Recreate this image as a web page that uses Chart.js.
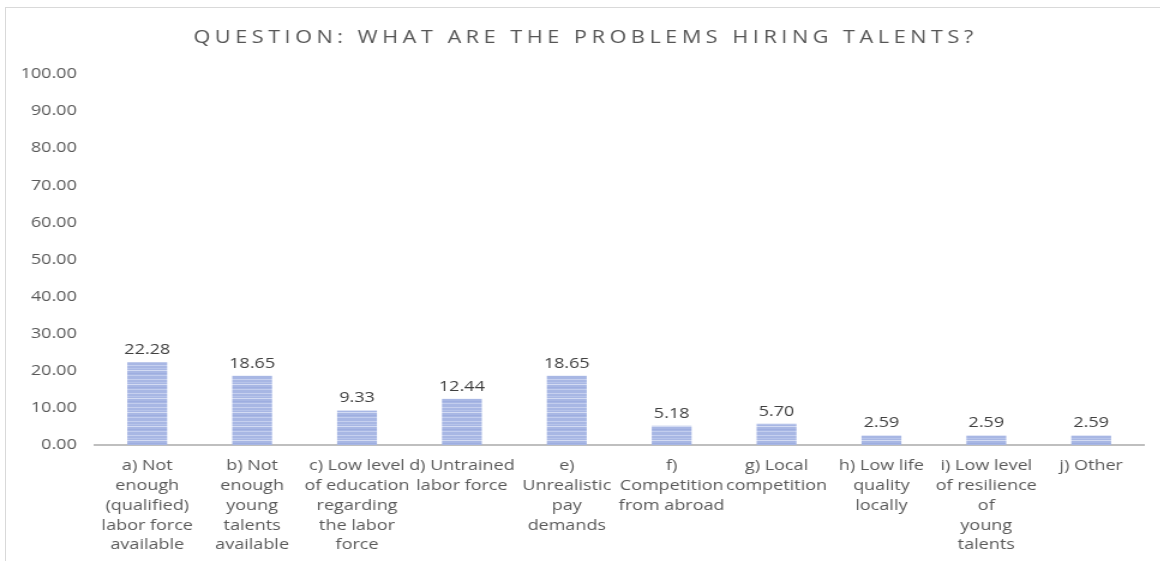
<!DOCTYPE html>
<html>
<head>
<meta charset="utf-8">
<script src="https://cdn.jsdelivr.net/npm/chart.js@4/dist/chart.umd.min.js"></script>
<style>
  html, body { margin: 0; padding: 0; background: #fff; }
  #wrap { position: relative; width: 1160px; height: 561px; overflow: hidden; }
  #frame { position: absolute; left: 5px; top: 7px; width: 1170px; height: 560px;
           border-left: 1px solid #d9d9d9; border-top: 1px solid #d9d9d9; }
  /* the chart is laid out narrow and then widened to the page */
  #hiring_canvas { position: absolute; left: 0; top: 0; transform: scale(1.2, 1); transform-origin: 0 0; }
</style>
</head>
<body>
<div id="wrap">
  <div id="frame"></div>
  <canvas id="hiring_canvas" width="967" height="566"></canvas>
</div>
<script>
const chartTitle = 'QUESTION: WHAT ARE THE PROBLEMS HIRING TALENTS?';

const categories = [
    ['a) Not', 'enough', '(qualified)', 'labor force', 'available'],
    ['b) Not', 'enough', 'young', 'talents', 'available'],
    ['c) Low level', 'of education', 'regarding', 'the labor', 'force'],
    ['d) Untrained', 'labor force'],
    ['e)', 'Unrealistic', 'pay', 'demands'],
    ['f)', 'Competition', 'from abroad'],
    ['g) Local', 'competition'],
    ['h) Low life', 'quality', 'locally'],
    ['i) Low level', 'of resilience', 'of', 'young', 'talents'],
    ['j) Other']
];

const shares = [22.28, 18.65, 9.33, 12.44, 18.65, 5.18, 5.70, 2.59, 2.59, 2.59];

const yTicks = { min: 0, max: 100, step: 10 };

const textFont = "'Open Sans', sans-serif";

// striped fill for the bars
function makeStripes() {
    const c = document.createElement('canvas');
    c.width = 8;
    c.height = 14;
    const g = c.getContext('2d');
    g.fillStyle = '#a8b7e4';
    g.fillRect(0, 0, 8, 14);
    const rows = [[1, '#c6d0ef'], [4, '#b7c4ea'], [6, '#d3dbf3'], [9, '#9eaee0'], [11, '#c2cdee']];
    rows.forEach(r => {
        g.fillStyle = r[1];
        g.fillRect(0, r[0], 8, 1);
    });
    return g.createPattern(c, 'repeat');
}

const titlePlugin = {
    id: 'spacedTitle',
    afterDraw(chart) {
        const ctx = chart.ctx;
        ctx.save();
        ctx.font = "18px " + textFont;
        ctx.fillStyle = '#555555';
        ctx.textAlign = 'center';
        ctx.textBaseline = 'middle';
        ctx.letterSpacing = '3.8px';
        ctx.fillText(chartTitle, 488, 38);
        ctx.restore();
    }
};

const valueLabels = {
    id: 'valueLabels',
    afterDatasetsDraw(chart) {
        const ctx = chart.ctx;
        const meta = chart.getDatasetMeta(0);
        ctx.save();
        ctx.font = "15px " + textFont;
        ctx.fillStyle = '#404040';
        ctx.textAlign = 'center';
        ctx.textBaseline = 'bottom';
        meta.data.forEach((bar, i) => {
            ctx.fillText(shares[i].toFixed(2), bar.x, bar.y - 5);
        });
        ctx.restore();
    }
};

const hiringCanvas = document.getElementById('hiring_canvas');
const hiringChart = new Chart(hiringCanvas, {
    type: 'bar',
    data: {
        labels: categories,
        datasets: [{
            data: shares,
            backgroundColor: makeStripes(),
            barPercentage: 0.38,
            categoryPercentage: 1
        }]
    },
    options: {
        responsive: false,
        animation: false,
        layout: { padding: { top: 74, right: 14, left: 0, bottom: 0 } },
        plugins: {
            legend: { display: false },
            tooltip: { enabled: false }
        },
        scales: {
            y: {
                min: yTicks.min,
                max: yTicks.max,
                grid: { display: false, drawTicks: false },
                border: { display: false },
                afterFit(scale) { scale.width = 79; },
                ticks: {
                    stepSize: yTicks.step,
                    padding: 15,
                    color: '#595959',
                    font: { family: textFont, size: 15 },
                    callback: v => v.toFixed(2)
                }
            },
            x: {
                grid: { display: false, drawTicks: false },
                border: { display: true, color: '#bfbfbf', width: 2 },
                ticks: {
                    autoSkip: false,
                    maxRotation: 0,
                    padding: 11,
                    color: '#595959',
                    font: { family: textFont, size: 15, lineHeight: 1.32 }
                }
            }
        }
    },
    plugins: [titlePlugin, valueLabels]
});
</script>
</body>
</html>
